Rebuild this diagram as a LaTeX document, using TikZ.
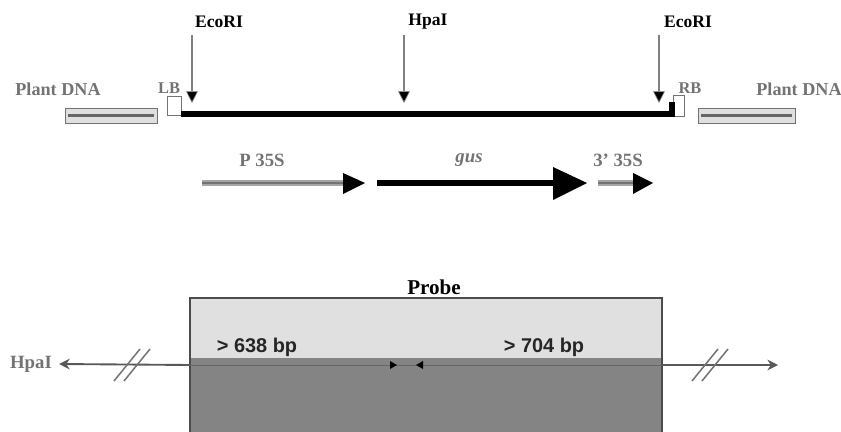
\documentclass[tikz,border=0pt]{standalone}
\usepackage{fontspec}
\setmainfont{Liberation Serif}
\setsansfont{Liberation Sans}
\usetikzlibrary{arrows.meta,positioning}
\definecolor{probeLight}{RGB}{224,224,224}
\definecolor{probeDark}{RGB}{132,132,132}
\definecolor{dnaGray}{RGB}{115,115,115}
\definecolor{barGray}{RGB}{165,165,165}

\begin{document}
\begin{tikzpicture}[x=0.03cm,y=-0.03cm,
  sitelbl/.style={font=\fontsize{15}{17}\selectfont\bfseries,inner sep=1pt},
  dnalbl/.style={font=\fontsize{15.5}{17}\selectfont\bfseries,text=dnaGray,inner sep=1pt},
  bordlbl/.style={font=\fontsize{14}{16}\selectfont\bfseries,text=dnaGray,inner sep=0pt},
  featlbl/.style={font=\fontsize{16}{18}\selectfont\bfseries,text=dnaGray,inner sep=1pt},
  bplbl/.style={font=\sffamily\fontsize{17}{19}\selectfont\bfseries,text=black!85,inner sep=0pt},
  cutarrow/.style={draw=gray,line width=1.3pt,-{Triangle[length=10pt,width=10pt,fill=black,line width=0.6pt]}},
  featarrow/.style={draw=barGray,line width=5pt},
  genearrow/.style={draw=black,line width=4.5pt}]
  \useasboundingbox (0,0) rectangle (841,432);
  % restriction sites
  \node[sitelbl] (ecoL) at (219,22) {EcoRI};
  \node[sitelbl] (hpaT) at (428,22) {HpaI};
  \node[sitelbl] (ecoR) at (688,22) {EcoRI};
  \coordinate (cutL) at (192,103);
  \coordinate (cutH) at (404,103);
  \coordinate (cutR) at (659,103);
  \draw[cutarrow] (192,35) -- (cutL);
  \draw[cutarrow] (404,35) -- (cutH);
  \draw[cutarrow] (659,35) -- (cutR);
  % T-DNA with borders
  \node[draw=dnaGray,fill=white,line width=0.8pt,minimum width=14*0.03cm,minimum height=19*0.03cm,inner sep=0pt] (lbBox) at (174,105.5) {};
  \node[draw=dnaGray,fill=white,line width=0.8pt,minimum width=11*0.03cm,minimum height=21*0.03cm,inner sep=0pt] (rbBox) at (678.5,105.5) {};
  \node[bordlbl] (lb) at (169,88) {LB};
  \node[bordlbl] (rb) at (690,88) {RB};
  \draw[black,line width=4.5pt] (lbBox.east |- 0,114) -- (672,114) -- (672,102);
  % plant DNA
  \node[dnalbl] (plantL) at (58,89) {Plant DNA};
  \node[dnalbl] (plantR) at (799,89) {Plant DNA};
  \draw[dnaGray,fill=gray!25,line width=0.8pt] (65,108) rectangle (157,123);
  \draw[black!60,line width=2pt] (68,115.5) -- (154,115.5);
  \draw[dnaGray,fill=gray!25,line width=0.8pt] (698,108) rectangle (795,123);
  \draw[black!60,line width=2pt] (701,115.5) -- (792,115.5);
  % cassette
  \node[featlbl] (p35s) at (262,160) {P 35S};
  \node[featlbl] (gus) at (469,160) {\itshape gus};
  \node[featlbl] (t35s) at (618,160) {3' 35S};
  \draw[featarrow] (202,183) -- (346,183);
  \draw[black!55,line width=1.2pt] (202,183) -- (346,183);
  \fill[black] (343,173) -- (365,183) -- (343,194) -- cycle;
  \draw[genearrow] (377,183) -- (556,183);
  \fill[black] (553,167) -- (587,183) -- (553,200) -- cycle;
  \draw[featarrow] (598,183) -- (636,183);
  \draw[black!55,line width=1.2pt] (598,183) -- (636,183);
  \fill[black] (633,173) -- (653,183) -- (633,194) -- cycle;
  % probe region
  \fill[probeDark] (190,358) rectangle (662,432);
  \fill[probeLight] (190,298) rectangle (662,358);
  \draw[black!70,line width=1.3pt] (190,432) -- (190,298) -- (662,298) -- (662,432);
  \node[sitelbl,font=\fontsize{18}{20}\selectfont\bfseries] (probe) at (434,287) {Probe};
  \node[bplbl] (bpL) at (257,347) {> 638 bp};
  \node[bplbl] (bpR) at (544,347) {> 704 bp};
  \coordinate (boxL) at (190,365);
  \coordinate (boxR) at (662,365);
  \coordinate (endR) at (778,365);
  \node[dnalbl,font=\fontsize{16}{18}\selectfont\bfseries] (hpaB) at (31,364) {HpaI};
  \draw[black!60,line width=0.8pt] (boxL) -- (boxR);
  \draw[black!65,line width=1.6pt,-{Stealth[length=9pt,width=9pt]}] (boxL) -- ([xshift=5pt]hpaB.east);
  \draw[black!65,line width=1.6pt,-{Stealth[length=9pt,width=9pt]}] (boxR) -- (endR);
  \fill[black] (390,361) -- (397,365) -- (390,369) -- cycle;
  \fill[black] (423,361) -- (416,365) -- (423,369) -- cycle;
  % breaks
  \draw[dnaGray,line width=1.3pt] (114,381) -- (140,349) (124,381) -- (150,349);
  \draw[dnaGray,line width=1.3pt] (692,381) -- (718,349) (702,381) -- (728,349);
\end{tikzpicture}
\end{document}
